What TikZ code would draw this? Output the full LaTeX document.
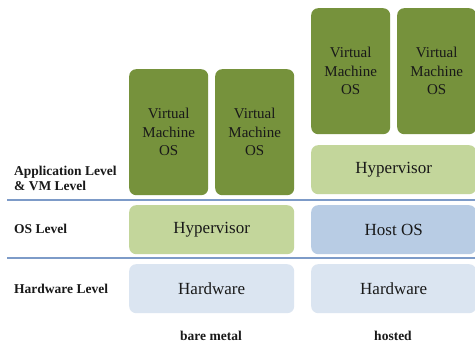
\documentclass[tikz,border=0pt]{standalone}
\usepackage{fontspec}
\setmainfont{Liberation Serif}
\definecolor{vmgreen}{RGB}{118,146,60}
\definecolor{hvgreen}{RGB}{195,214,155}
\definecolor{hostblue}{RGB}{184,204,228}
\definecolor{hwblue}{RGB}{219,229,241}
\definecolor{rule}{RGB}{125,155,200}
\definecolor{ink}{RGB}{25,25,25}
\tikzset{
  box/.style={anchor=north west, inner sep=0pt, rounded corners=7pt, text=ink},
  vmbox/.style={box, fill=vmgreen, minimum width=79pt, minimum height=126pt, align=center,
    font=\fontsize{15}{18.5}\selectfont},
  layerbox/.style={box, minimum width=165pt, minimum height=49pt,
    font=\fontsize{17}{20}\selectfont},
  levellabel/.style={anchor=west, inner sep=0pt, align=left, text=ink,
    font=\bfseries\fontsize{13.5}{16}\selectfont},
  collabel/.style={inner sep=0pt, text=ink, font=\bfseries\fontsize{13.5}{16}\selectfont},
  levelrule/.style={draw=rule, line width=1.2pt}
}
\begin{document}
\begin{tikzpicture}[x=1pt,y=-1pt]
\clip (0,0) rectangle (475,345);
\fill[white] (0,0) rectangle (475,345);

% level separators
\coordinate (r1a) at (7,200);  \coordinate (r1b) at (475,200);
\coordinate (r2a) at (7,258);  \coordinate (r2b) at (475,258);
\draw[levelrule] (r1a) -- (r1b);
\draw[levelrule] (r2a) -- (r2b);

% level names
\node[levellabel] (lapp) at (14,178) {Application Level\\[-1pt]\& VM Level};
\node[levellabel] (los) at (14,229) {OS Level};
\node[levellabel] (lhw) at (14,289) {Hardware Level};

% bare-metal stack
\node[vmbox] (bvm1) at (129,69) {Virtual\\Machine\\OS};
\node[vmbox] (bvm2) at (215,69) {Virtual\\Machine\\OS};
\node[layerbox, fill=hvgreen] (bhv) at (129,205) {Hypervisor};
\node[layerbox, fill=hwblue] (bhw) at (129,264) {Hardware};

% hosted stack
\node[vmbox] (hvm1) at (311,8) {Virtual\\Machine\\OS};
\node[vmbox] (hvm2) at (397,8) {Virtual\\Machine\\OS};
\node[layerbox, fill=hvgreen] (hhv) at (311,145) {Hypervisor};
\node[layerbox, fill=hostblue] (hos) at (311,205) {Host OS};
\node[layerbox, fill=hwblue] (hhw) at (311,264) {Hardware};

% column captions
\node[collabel] (cbare) at (211,336) {bare metal};
\node[collabel] (chost) at (393,336) {hosted};
\end{tikzpicture}
\end{document}
